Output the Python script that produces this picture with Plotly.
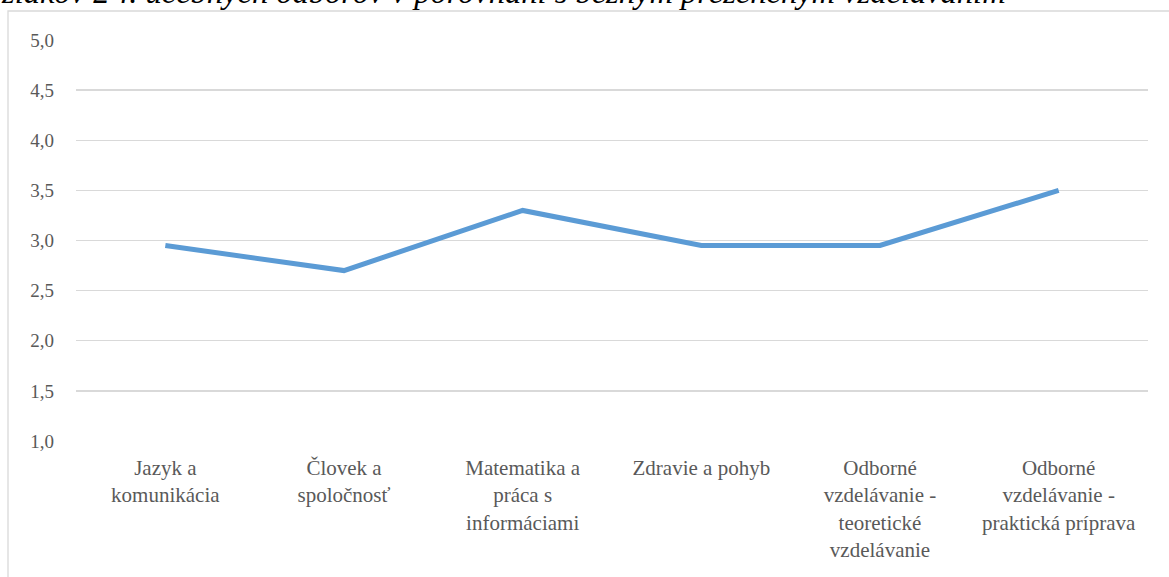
import plotly.graph_objects as go

categories = [
    "Jazyk a<br>komunikácia",
    "Človek a<br>spoločnosť",
    "Matematika a<br>práca s<br>informáciami",
    "Zdravie a pohyb",
    "Odborné<br>vzdelávanie -<br>teoretické<br>vzdelávanie",
    "Odborné<br>vzdelávanie -<br>praktická príprava",
]
values = [2.95, 2.70, 3.30, 2.95, 2.95, 3.50]
y_ticks = [1.0, 1.5, 2.0, 2.5, 3.0, 3.5, 4.0, 4.5, 5.0]
title_text = "žiakov 2-r. učebných odborov v porovnaní s bežným prezenčným vzdelávaním"

W, H = 1169, 577
ML, MR, MT, MB = 76, 21, 40, 136
PW = W - ML - MR
PH = H - MT - MB
SERIF = "Liberation Serif, Times New Roman, serif"

fig = go.Figure()
fig.add_trace(go.Scatter(
    x=list(range(len(categories))), y=values, mode="lines",
    line=dict(color="#5B9BD5", width=5), hoverinfo="skip", showlegend=False,
))

fig.update_layout(
    width=W, height=H,
    margin=dict(l=ML, r=MR, t=MT, b=MB, autoexpand=False),
    paper_bgcolor="white", plot_bgcolor="white",
    separators=", ",
    font=dict(family=SERIF, size=21, color="#595959"),
    showlegend=False,
)
fig.update_xaxes(
    range=[-0.5, len(categories) - 0.5],
    tickmode="array", tickvals=list(range(len(categories))), ticktext=categories,
    tickfont=dict(size=21),
    showgrid=False, zeroline=False, showline=False, ticks="",
    ticklabelstandoff=12, fixedrange=True,
)
fig.update_yaxes(
    range=[1, 5], tickmode="array", tickvals=y_ticks,
    ticktext=[f"{v:.1f}".replace(".", ",") for v in y_ticks],
    tickfont=dict(size=19),
    showgrid=True, gridcolor="#D9D9D9", gridwidth=1.3,
    zeroline=False, showline=False, ticks="", ticklabelstandoff=21,
    fixedrange=True,
)

# outer chart border (partly outside the visible frame)
fig.add_shape(type="rect", xref="paper", yref="paper",
              x0=(8 - ML) / PW, x1=1.2, y0=-0.6, y1=(H - MB - 11) / PH,
              line=dict(color="#D9D9D9", width=1.3), fillcolor="rgba(0,0,0,0)", layer="below")

# cut-off document caption above the chart
fig.add_annotation(text=title_text, xref="paper", yref="paper",
                   x=(-1 - ML) / PW, y=(H - MB - 12) / PH, xanchor="left", yanchor="bottom",
                   showarrow=False,
                   font=dict(family=SERIF, size=32.5, color="#000000", style="italic"))

fig.write_html("out.html", config={"displayModeBar": False, "staticPlot": True},
               post_script="document.body.style.margin='0px';")
